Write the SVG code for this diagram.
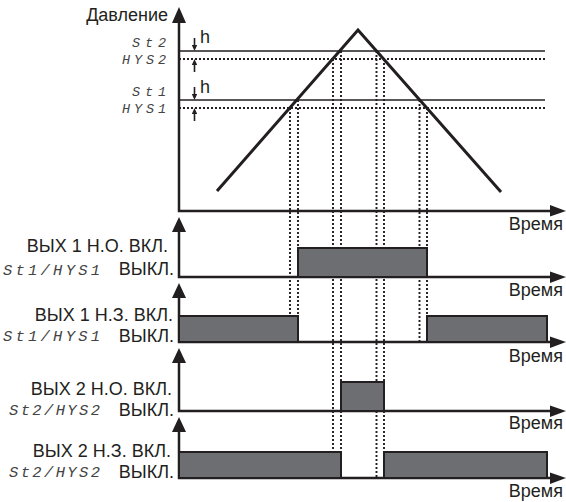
<svg xmlns="http://www.w3.org/2000/svg" width="566" height="502" viewBox="0 0 566 502">
<style>
.t{font-family:"Liberation Sans",Arial,sans-serif;font-size:18px;fill:#231f20}
.s{font-family:"Liberation Mono","DejaVu Sans Mono",monospace;font-style:italic;font-size:15.5px;fill:#444}
.s2{font-size:13.5px}
.ax{stroke:#231f20;stroke-width:2.5;fill:none}
.ah{fill:#231f20}
.th{stroke:#231f20;stroke-width:1.6;fill:none}
.dt{stroke:#231f20;stroke-width:1.9;stroke-dasharray:2 2;fill:none}
.bar{fill:#6d6e71;stroke:#231f20;stroke-width:2}
.tri{stroke:#231f20;stroke-width:3;fill:none;stroke-linejoin:miter}
</style>
<rect width="566" height="502" fill="#fff"/>
<g id="connectors">
<line class="th" x1="179" y1="51" x2="545" y2="51"/>
<line class="dt" x1="179" y1="59" x2="545" y2="59"/>
<line class="th" x1="179" y1="100" x2="545" y2="100"/>
<line class="dt" x1="179" y1="108" x2="545" y2="108"/>
<line class="dt" x1="290" y1="108" x2="290" y2="342"/>
<line class="dt" x1="298" y1="100" x2="298" y2="342"/>
<line class="dt" x1="333" y1="59" x2="333" y2="478"/>
<line class="dt" x1="341" y1="51" x2="341" y2="478"/>
<line class="dt" x1="376.5" y1="51" x2="376.5" y2="478"/>
<line class="dt" x1="384" y1="59" x2="384" y2="478"/>
<line class="dt" x1="419.5" y1="100" x2="419.5" y2="342"/>
<line class="dt" x1="427" y1="108" x2="427" y2="342"/>
<polyline class="tri" points="217,191 358,30 501,192"/>
<line class="th" x1="194.5" y1="38" x2="194.5" y2="46" stroke-width="1.2"/>
<polygon class="ah" points="191.8,45 197.2,45 194.5,51"/>
<line class="th" x1="194.5" y1="72" x2="194.5" y2="63" stroke-width="1.2"/>
<polygon class="ah" points="191.8,65 197.2,65 194.5,59"/>
<line class="th" x1="194.5" y1="87" x2="194.5" y2="95" stroke-width="1.2"/>
<polygon class="ah" points="191.8,94 197.2,94 194.5,100"/>
<line class="th" x1="194.5" y1="121" x2="194.5" y2="112" stroke-width="1.2"/>
<polygon class="ah" points="191.8,114 197.2,114 194.5,108"/>
<polyline class="ax" points="179,22 179,211 551,211"/>
<polygon class="ah" points="172,23 186,23 179,7"/>
<polygon class="ah" points="550,205 550,216.5 566,211"/>
<polyline class="ax" points="179,231 179,277 551,277"/>
<polygon class="ah" points="172,232 186,232 179,217"/>
<polygon class="ah" points="550,271.5 550,283 566,277"/>
<polyline class="ax" points="179,297 179,342 551,342"/>
<polygon class="ah" points="172,298 186,298 179,283"/>
<polygon class="ah" points="550,336.5 550,348 566,342"/>
<polyline class="ax" points="179,362 179,411 551,411"/>
<polygon class="ah" points="172,363 186,363 179,348"/>
<polygon class="ah" points="550,405.5 550,417 566,411"/>
<polyline class="ax" points="179,431 179,478 551,478"/>
<polygon class="ah" points="172,432 186,432 179,417"/>
<polygon class="ah" points="550,472.5 550,484 566,478"/>
</g>
<g id="bars">
<rect class="bar" x="298" y="248" width="129" height="29"/>
<rect class="bar" x="179" y="316" width="119" height="26"/>
<rect class="bar" x="427" y="316" width="120" height="26"/>
<rect class="bar" x="341" y="382" width="43" height="29"/>
<rect class="bar" x="179" y="452" width="162" height="26"/>
<rect class="bar" x="384" y="452" width="163" height="26"/>
</g>
<g id="labels">
<text class="t" x="168" y="21" text-anchor="end">Давление</text>
<text class="t" x="200" y="43" font-size="16">h</text>
<text class="t" x="200" y="93" font-size="16">h</text>
<text class="s s2" x="132" y="47" textLength="34" lengthAdjust="spacing">St2</text>
<text class="s s2" x="122" y="64" textLength="44" lengthAdjust="spacing">HYS2</text>
<text class="s s2" x="132" y="96" textLength="34" lengthAdjust="spacing">St1</text>
<text class="s s2" x="122" y="113" textLength="44" lengthAdjust="spacing">HYS1</text>
<text class="t" x="563" y="230" text-anchor="end">Время</text>
<text class="t" x="563" y="296" text-anchor="end">Время</text>
<text class="t" x="563" y="362" text-anchor="end">Время</text>
<text class="t" x="563" y="429" text-anchor="end">Время</text>
<text class="t" x="563" y="497" text-anchor="end">Время</text>
<text class="t" x="168" y="252" text-anchor="end">ВЫХ 1 Н.О. ВКЛ.</text>
<text class="s" x="3" y="275" textLength="97" lengthAdjust="spacing">St1/HYS1</text>
<text class="t" x="174" y="275" text-anchor="end">ВЫКЛ.</text>
<text class="t" x="173" y="321" text-anchor="end">ВЫХ 1 Н.З. ВКЛ.</text>
<text class="s" x="3" y="341" textLength="97" lengthAdjust="spacing">St1/HYS1</text>
<text class="t" x="174" y="342" text-anchor="end">ВЫКЛ.</text>
<text class="t" x="172" y="395" text-anchor="end">ВЫХ 2 Н.О. ВКЛ.</text>
<text class="s" x="9" y="415" textLength="91" lengthAdjust="spacing">St2/HYS2</text>
<text class="t" x="174" y="416" text-anchor="end">ВЫКЛ.</text>
<text class="t" x="171" y="457" text-anchor="end">ВЫХ 2 Н.З. ВКЛ.</text>
<text class="s" x="9" y="477" textLength="91" lengthAdjust="spacing">St2/HYS2</text>
<text class="t" x="174" y="478" text-anchor="end">ВЫКЛ.</text>
</g>
</svg>
